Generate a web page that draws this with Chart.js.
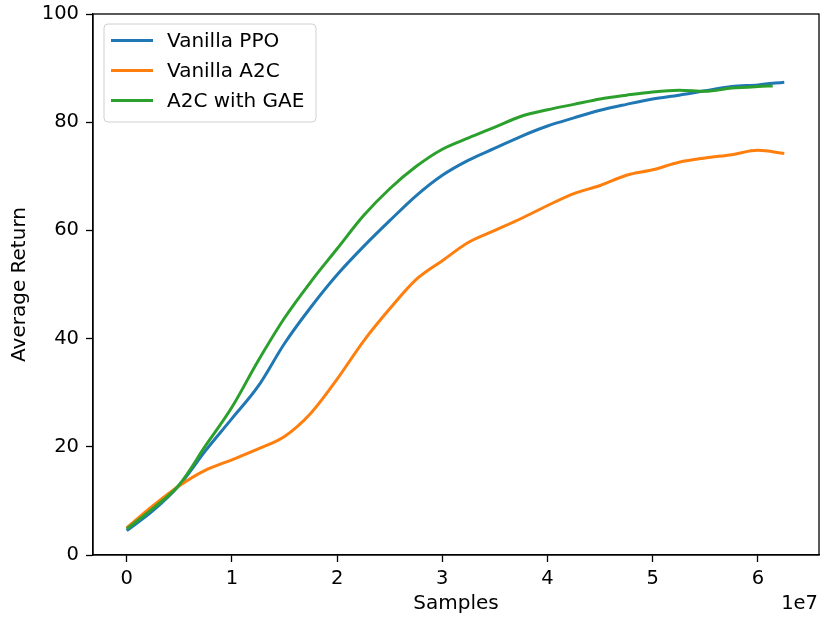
<!DOCTYPE html>
<html>
<head>
<meta charset="utf-8">
<script src="https://cdn.jsdelivr.net/npm/chart.js@4"></script>
<style>
  html, body { margin: 0; padding: 0; background: #fff; }
</style>
</head>
<body>
<canvas id="chart" width="820" height="622"></canvas>
<script>
// samples in units of 1e7
const samples = [0, 0.25, 0.5, 0.75, 1, 1.25, 1.5, 1.75, 2, 2.25, 2.5, 2.75, 3, 3.25, 3.5, 3.75, 4, 4.25, 4.5, 4.75, 5, 5.25, 5.5, 5.75, 6, 6.25];
const samplesGae = [0, 0.25, 0.5, 0.75, 1, 1.25, 1.5, 1.75, 2, 2.25, 2.5, 2.75, 3, 3.25, 3.5, 3.75, 4, 4.25, 4.5, 4.75, 5, 5.25, 5.5, 5.75, 6, 6.14];

const ppoReturn = [4.5, 8.2, 12.9, 19.3, 25.2, 31.2, 39.1, 45.8, 51.8, 57.0, 61.8, 66.4, 70.2, 73.0, 75.2, 77.4, 79.3, 80.8, 82.2, 83.3, 84.3, 85.0, 85.8, 86.6, 86.9, 87.4];
const a2cReturn = [5.0, 9.1, 12.8, 15.7, 17.6, 19.6, 21.9, 26.2, 32.5, 39.5, 45.5, 50.9, 54.4, 57.8, 60.0, 62.2, 64.6, 66.8, 68.3, 70.2, 71.2, 72.6, 73.4, 74.0, 74.8, 74.2];
const gaeReturn = [4.8, 8.6, 13.0, 20.2, 27.3, 35.9, 43.8, 50.5, 56.6, 62.7, 67.7, 71.8, 75.0, 77.1, 79.1, 81.1, 82.3, 83.3, 84.3, 85.0, 85.6, 85.9, 85.7, 86.3, 86.6, 86.7];

const xTicks = [0, 1, 2, 3, 4, 5, 6];
const yTicks = [0, 20, 40, 60, 80, 100];

const family = '"DejaVu Sans", sans-serif';
const tickSize = 19.5;
const textSize = 20;

const toPoints = (xs, ys) => xs.map((x, i) => ({ x: x, y: ys[i] }));

// frame, offset text and a matplotlib-like legend
const extras = {
  id: 'extras',
  afterDraw(chart) {
    const { ctx, chartArea: a } = chart;
    ctx.save();
    ctx.strokeStyle = '#000';
    ctx.lineWidth = 1.3;
    ctx.strokeRect(a.left, a.top, a.right - a.left, a.bottom - a.top);

    ctx.fillStyle = '#000';
    ctx.font = tickSize + 'px ' + family;
    ctx.textAlign = 'right';
    ctx.textBaseline = 'middle';
    ctx.fillText('1e7', a.right - 1, 604);

    const lx = a.left + 11, ly = a.top + 10, lw = 212, lh = 98;
    ctx.beginPath();
    ctx.roundRect(lx, ly, lw, lh, 4);
    ctx.fillStyle = 'rgba(255,255,255,0.8)';
    ctx.fill();
    ctx.strokeStyle = '#d0d0d0';
    ctx.lineWidth = 1;
    ctx.stroke();

    ctx.font = textSize + 'px ' + family;
    ctx.textAlign = 'left';
    chart.data.datasets.forEach((ds, i) => {
      const y = ly + 16.5 + i * 30;
      ctx.beginPath();
      ctx.moveTo(lx + 7, y);
      ctx.lineTo(lx + 49, y);
      ctx.strokeStyle = ds.borderColor;
      ctx.lineWidth = 3;
      ctx.stroke();
      ctx.fillStyle = '#000';
      ctx.fillText(ds.label, lx + 63, y + 1);
    });
    ctx.restore();
  }
};

const axisGrid = { drawOnChartArea: false, drawTicks: true, tickLength: 7, tickColor: '#000', tickWidth: 1.3 };

new Chart(document.getElementById('chart').getContext('2d'), {
  type: 'line',
  data: {
    datasets: [
      { label: 'Vanilla PPO', data: toPoints(samples, ppoReturn), borderColor: '#1f77b4', order: 2 },
      { label: 'Vanilla A2C', data: toPoints(samples, a2cReturn), borderColor: '#ff7f0e', order: 1 },
      { label: 'A2C with GAE', data: toPoints(samplesGae, gaeReturn), borderColor: '#2ca02c', order: 0 },
    ],
  },
  options: {
    responsive: false,
    animation: false,
    layout: { padding: { top: 14, right: 1, left: 0, bottom: 0 } },
    plugins: { legend: { display: false }, tooltip: { enabled: false } },
    elements: {
      point: { radius: 0 },
      line: { borderWidth: 3, fill: false, cubicInterpolationMode: 'monotone' },
    },
    scales: {
      x: {
        type: 'linear',
        min: -0.32,
        max: 6.58,
        afterBuildTicks: (s) => { s.ticks = xTicks.map((v) => ({ value: v })); },
        afterFit: (s) => { s.height = 67; s.paddingLeft = 0; s.paddingRight = 0; },
        grid: axisGrid,
        border: { display: true, color: '#000', width: 1.3 },
        ticks: { color: '#000', font: { family, size: tickSize }, padding: 5, maxRotation: 0 },
        title: { display: true, text: 'Samples', color: '#000', font: { family, size: textSize }, padding: { top: 0, bottom: 6 } },
      },
      y: {
        min: 0,
        max: 100,
        afterBuildTicks: (s) => { s.ticks = yTicks.map((v) => ({ value: v })); },
        afterFit: (s) => { s.width = 93; s.paddingTop = 0; s.paddingBottom = 0; },
        grid: axisGrid,
        border: { display: true, color: '#000', width: 1.3 },
        ticks: { color: '#000', font: { family, size: tickSize }, padding: 7 },
        title: { display: true, text: 'Average Return', color: '#000', font: { family, size: textSize }, padding: { top: 8, bottom: 0 } },
      },
    },
  },
  plugins: [extras],
});
</script>
</body>
</html>
